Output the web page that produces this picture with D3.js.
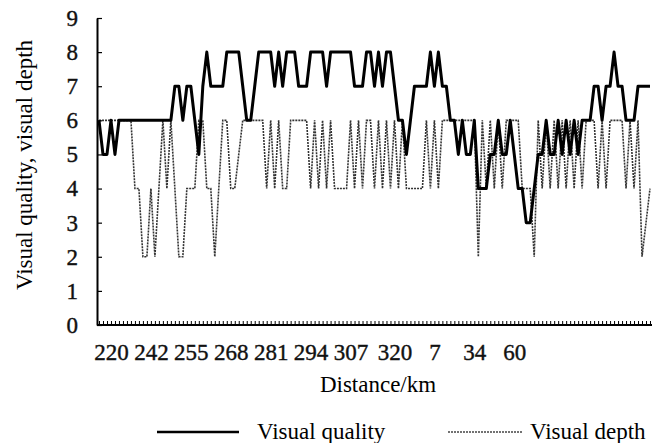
<!DOCTYPE html>
<html>
<head>
<meta charset="utf-8">
<script src="https://cdn.jsdelivr.net/npm/d3@7"></script>
<style>
  body { margin: 0; background: #fff; }
  svg { display: block; }
  .tick text { font-family: "Liberation Serif", serif; }
</style>
</head>
<body>
<div id="chart"></div>
<script>
// values, one sample every ~4px along the route
const quality = [
  6, 5, 5, 6, 5, 6, 6, 6, 6, 6,
  6, 6, 6, 6, 6, 6, 6, 6, 6, 7,
  7, 6, 7, 7, 6, 5, 7, 8, 7, 7,
  7, 7, 8, 8, 8, 8, 7, 6, 6, 7,
  8, 8, 8, 8, 7, 8, 7, 8, 8, 8,
  7, 7, 7, 8, 8, 8, 8, 7, 8, 8,
  8, 8, 8, 8, 7, 7, 7, 8, 8, 7,
  8, 7, 8, 8, 7, 6, 6, 5, 6, 7,
  7, 7, 7, 8, 7, 8, 7, 7, 6, 6,
  5, 6, 5, 5, 6, 4, 4, 4, 5, 5,
  6, 5, 5, 6, 5, 4, 4, 3, 3, 4,
  5, 5, 6, 5, 5, 6, 5, 6, 5, 6,
  5, 6, 6, 6, 7, 7, 6, 7, 7, 8,
  7, 7, 6, 6, 6, 7, 7, 7, 7
];
const depth = [
  6, 6, 6, 6, 6, 6, 6, 6, 6, 4,
  4, 2, 2, 4, 2, 4, 6, 4, 6, 4,
  2, 2, 4, 4, 4, 6, 6, 4, 4, 2,
  4, 6, 6, 4, 4, 5, 6, 6, 6, 6,
  6, 6, 4, 6, 4, 6, 4, 4, 6, 6,
  6, 6, 6, 4, 6, 4, 6, 4, 6, 4,
  4, 4, 4, 6, 4, 6, 4, 6, 6, 4,
  6, 4, 6, 4, 6, 4, 6, 4, 4, 4,
  4, 4, 6, 4, 6, 4, 6, 6, 6, 6,
  6, 6, 6, 6, 6, 2, 6, 4, 6, 4,
  6, 4, 6, 6, 6, 6, 4, 4, 4, 2,
  6, 4, 6, 4, 6, 4, 6, 4, 6, 4,
  6, 4, 6, 6, 6, 4, 6, 4, 6, 6,
  6, 6, 4, 6, 4, 6, 2, 3, 4
];
const tickLabels = ["220", "242", "255", "268", "281", "294", "307", "320", "7", "34", "60"];
const tickIndex = [3, 13, 23, 33, 43, 53, 63, 74, 84, 94, 104];

const width = 662;
const height = 443;

const svg = d3.select("#chart")
  .append("svg")
  .attr("width", width)
  .attr("height", height);

const x = d3.scaleLinear().domain([0, quality.length - 1]).range([99, 650]);
const y = d3.scaleLinear().domain([0, 9]).range([325, 18]);

// lines
const line = d3.line()
  .x((d, i) => x(i))
  .y(d => y(d));

svg.append("path")
  .datum(depth)
  .attr("fill", "none")
  .attr("stroke", "#333")
  .attr("stroke-width", 1.6)
  .attr("stroke-dasharray", "2,1")
  .attr("d", line);

svg.append("path")
  .datum(quality)
  .attr("fill", "none")
  .attr("stroke", "#000")
  .attr("stroke-width", 3)
  .attr("stroke-linejoin", "round")
  .attr("d", line);

// y axis
const yAxis = svg.append("g")
  .attr("transform", "translate(97,0)")
  .call(d3.axisLeft(y).ticks(9).tickSize(-5).tickPadding(19).tickSizeOuter(0));
yAxis.select(".domain").attr("stroke-width", 2);
yAxis.selectAll(".tick text").attr("font-size", 23).attr("fill", "#111")
  .attr("stroke", "#111").attr("stroke-width", 0.4);
yAxis.selectAll(".tick line").attr("stroke-width", 1.2);

// x axis: small tick at every sample, labels at selected samples
const xMinor = svg.append("g")
  .attr("transform", "translate(0,325)")
  .call(d3.axisBottom(x).tickValues(d3.range(quality.length)).tickSize(-4).tickFormat("").tickSizeOuter(0));
xMinor.select(".domain").attr("stroke-width", 2).attr("d", "M97,0H652");
xMinor.selectAll(".tick line").attr("stroke-width", 1);

const xLabels = svg.append("g")
  .attr("transform", "translate(0,325)")
  .call(d3.axisBottom(x).tickValues(tickIndex).tickSize(0).tickPadding(19)
    .tickFormat((d, i) => tickLabels[i]));
xLabels.select(".domain").remove();
xLabels.selectAll(".tick text").attr("font-size", 23).attr("fill", "#111")
  .attr("stroke", "#111").attr("stroke-width", 0.4);

// titles
svg.append("text")
  .attr("x", 378)
  .attr("y", 392)
  .attr("text-anchor", "middle")
  .attr("font-family", "Liberation Serif, serif")
  .attr("font-size", 23)
  .text("Distance/km");

svg.append("text")
  .attr("transform", "translate(32,165) rotate(-90)")
  .attr("text-anchor", "middle")
  .attr("font-family", "Liberation Serif, serif")
  .attr("font-size", 23)
  .text("Visual quality, visual depth");

// legend
const legend = svg.append("g");
legend.append("line")
  .attr("x1", 157).attr("x2", 239).attr("y1", 432).attr("y2", 432)
  .attr("stroke", "#000").attr("stroke-width", 2.6);
legend.append("text")
  .attr("x", 257).attr("y", 439)
  .attr("font-family", "Liberation Serif, serif")
  .attr("font-size", 23)
  .text("Visual quality");
legend.append("line")
  .attr("x1", 448).attr("x2", 522).attr("y1", 432).attr("y2", 432)
  .attr("stroke", "#444").attr("stroke-width", 1.5).attr("stroke-dasharray", "2,1");
legend.append("text")
  .attr("x", 530).attr("y", 439)
  .attr("font-family", "Liberation Serif, serif")
  .attr("font-size", 23)
  .text("Visual depth");
</script>
</body>
</html>
